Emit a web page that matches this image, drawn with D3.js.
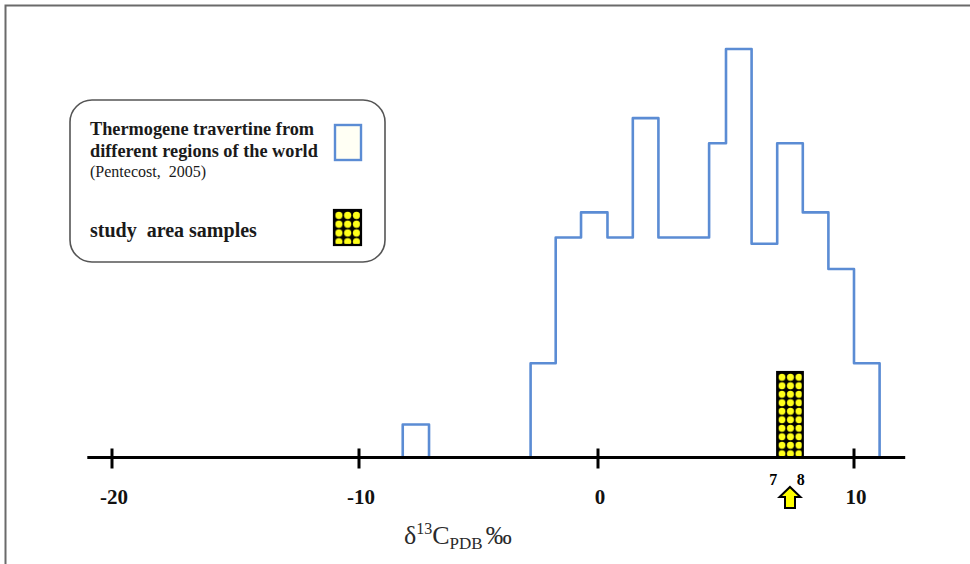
<!DOCTYPE html>
<html>
<head>
<meta charset="utf-8">
<script src="https://cdn.jsdelivr.net/npm/d3@7"></script>
<style>
  body { margin: 0; background: #fff; }
  svg { display: block; }
</style>
</head>
<body>
<div id="chart"></div>
<script>
var width = 970,
    height = 564;

// histogram of thermogene travertine (Pentecost, 2005)
var binEdges = [-2.82, -1.77, -0.71, 0.37, 1.36, 2.36, 4.34, 5, 6, 7, 8, 9, 10, 11];
var binCounts = [3, 7, 7.8, 7, 10.8, 7, 10, 13, 6.8, 10, 7.8, 6, 3];

// isolated bar on the left
var loneEdges = [-8.17, -7.07];
var loneCount = 1.05;

// study area samples
var sampleEdges = [7, 8];
var sampleCount = 2.72;

var tickValues = [-20, -10, 0, 10];
var tickLabels = ["-20", "-10", "0", "10"];

var blue = "#5b8cd4";

var svg = d3.select("#chart").append("svg")
    .attr("width", width)
    .attr("height", height);

// the hand drawn axis is not quite even, so a piecewise scale
var x = d3.scaleLinear()
    .domain([-20, -10, 0, 10])
    .range([112, 359, 598, 854]);

var y = d3.scaleLinear()
    .domain([0, 13])
    .range([457.5, 49]);

var defs = svg.append("defs");

function makePattern(id, px, py, pw, ph) {
  var p = defs.append("pattern")
      .attr("id", id)
      .attr("patternUnits", "userSpaceOnUse")
      .attr("x", px)
      .attr("y", py)
      .attr("width", pw)
      .attr("height", ph);
  p.append("rect")
      .attr("width", pw)
      .attr("height", ph)
      .attr("fill", "#000");
  p.append("circle")
      .attr("cx", pw / 2)
      .attr("cy", ph / 2)
      .attr("r", pw * 0.41)
      .attr("fill", "#ffff1a");
}
makePattern("dots", x(sampleEdges[0]) + 0.5, y(sampleCount) + 1, 8.5, 8.5);
makePattern("dots2", 334.5, 211, 8.8, 8.8);

// outer frame
svg.append("rect")
    .attr("x", 5.5)
    .attr("y", 5.5)
    .attr("width", 1000)
    .attr("height", 1000)
    .attr("fill", "none")
    .attr("stroke", "#6a6a6a")
    .attr("stroke-width", 2);

//
// Histogram outline
//
var pts = [[binEdges[0], 0]];
binCounts.forEach(function(c, i) {
  pts.push([binEdges[i], c]);
  pts.push([binEdges[i + 1], c]);
});
pts.push([binEdges[binEdges.length - 1], 0]);

var line = d3.line()
    .x(function(d) { return x(d[0]); })
    .y(function(d) { return y(d[1]); });

svg.append("path")
    .attr("d", line(pts))
    .attr("fill", "none")
    .attr("stroke", blue)
    .attr("stroke-width", 2.6)
    .attr("stroke-linejoin", "round");

svg.append("path")
    .attr("d", line([[loneEdges[0], 0], [loneEdges[0], loneCount], [loneEdges[1], loneCount], [loneEdges[1], 0]]))
    .attr("fill", "none")
    .attr("stroke", blue)
    .attr("stroke-width", 2.6)
    .attr("stroke-linejoin", "round");

//
// Study area bar
//
svg.append("rect")
    .attr("x", x(sampleEdges[0]))
    .attr("y", y(sampleCount))
    .attr("width", x(sampleEdges[1]) - x(sampleEdges[0]))
    .attr("height", y(0) - y(sampleCount))
    .attr("fill", "url(#dots)")
    .attr("stroke", "#000")
    .attr("stroke-width", 2.2);

//
// Axis
//
svg.append("line")
    .attr("x1", x(-21))
    .attr("x2", x(12))
    .attr("y1", y(0))
    .attr("y2", y(0))
    .attr("stroke", "#000")
    .attr("stroke-width", 3);

svg.selectAll("line.tick")
    .data(tickValues)
    .enter().append("line")
    .attr("class", "tick")
    .attr("x1", function(d) { return x(d); })
    .attr("x2", function(d) { return x(d); })
    .attr("y1", y(0) - 9)
    .attr("y2", y(0) + 11)
    .attr("stroke", "#000")
    .attr("stroke-width", 3);

svg.selectAll("text.tlab")
    .data(tickValues)
    .enter().append("text")
    .attr("class", "tlab")
    .attr("x", function(d) { return x(d) + 2; })
    .attr("y", 504)
    .attr("text-anchor", "middle")
    .attr("font-family", "'Liberation Serif', 'Times New Roman', serif")
    .attr("font-weight", "bold")
    .attr("font-size", "21px")
    .attr("fill", "#111")
    .text(function(d, i) { return tickLabels[i]; });

// 7 / 8 marks and the arrow
svg.append("text")
    .attr("x", x(sampleEdges[0]) - 4)
    .attr("y", 485)
    .attr("text-anchor", "middle")
    .attr("font-family", "'Liberation Serif', serif")
    .attr("font-weight", "bold")
    .attr("font-size", "16px")
    .text("7");
svg.append("text")
    .attr("x", x(sampleEdges[1]) - 2)
    .attr("y", 485)
    .attr("text-anchor", "middle")
    .attr("font-family", "'Liberation Serif', serif")
    .attr("font-weight", "bold")
    .attr("font-size", "16px")
    .text("8");

svg.append("path")
    .attr("transform", "translate(" + x((sampleEdges[0] + sampleEdges[1]) / 2) + ",487)")
    .attr("d", "M0,0L10.5,10L5,10L5,21L-5,21L-5,10L-10.5,10Z")
    .attr("fill", "#ffff00")
    .attr("stroke", "#000")
    .attr("stroke-width", 2)
    .attr("stroke-linejoin", "miter");

// axis title
var title = svg.append("text")
    .attr("x", 404)
    .attr("y", 544)
    .attr("font-family", "'Liberation Serif', 'Times New Roman', serif")
    .attr("font-size", "26px")
    .attr("fill", "#2a2a2a");
title.append("tspan").text("δ");
title.append("tspan").attr("font-size", "16px").attr("dy", -10).text("13");
title.append("tspan").attr("dy", 10).text("C");
title.append("tspan").attr("font-size", "17px").attr("dy", 5).text("PDB");
title.append("tspan").attr("dy", -5).attr("dx", 3).text("‰");

//
// Legend
//
svg.append("rect")
    .attr("x", 70)
    .attr("y", 100)
    .attr("width", 315)
    .attr("height", 162)
    .attr("rx", 22)
    .attr("ry", 22)
    .attr("fill", "#fff")
    .attr("stroke", "#555")
    .attr("stroke-width", 1.6);

var legendLines = [
  {text: "Thermogene travertine from", y: 135, size: "18.3px", weight: "bold"},
  {text: "different regions of the world", y: 157, size: "18.3px", weight: "bold"},
  {text: "(Pentecost,  2005)", y: 177, size: "16px", weight: "normal"},
  {text: "study  area samples", y: 237, size: "20px", weight: "bold"}
];

svg.selectAll("text.leg")
    .data(legendLines)
    .enter().append("text")
    .attr("class", "leg")
    .attr("x", 90)
    .attr("y", function(d) { return d.y; })
    .attr("font-family", "'Liberation Serif', 'Times New Roman', serif")
    .attr("font-size", function(d) { return d.size; })
    .attr("font-weight", function(d) { return d.weight; })
    .attr("fill", "#1a1a1a")
    .style("white-space", "pre")
    .text(function(d) { return d.text; });

svg.append("rect")
    .attr("x", 335)
    .attr("y", 125)
    .attr("width", 26)
    .attr("height", 35)
    .attr("fill", "#fffff4")
    .attr("stroke", blue)
    .attr("stroke-width", 2.4);

svg.append("rect")
    .attr("x", 334)
    .attr("y", 210)
    .attr("width", 27)
    .attr("height", 35)
    .attr("fill", "url(#dots2)")
    .attr("stroke", "#000")
    .attr("stroke-width", 2.2);
</script>
</body>
</html>
